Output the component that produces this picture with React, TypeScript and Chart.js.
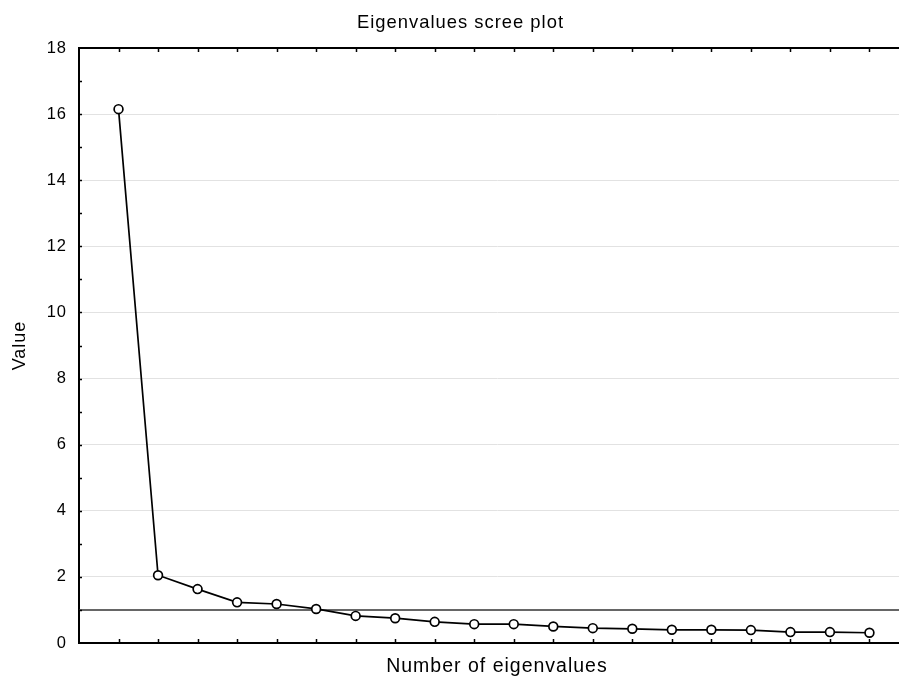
import React, { useEffect, useRef } from "react";
import { Chart, registerables } from "chart.js";

Chart.register(...registerables);

const components: number[] = [1, 2, 3, 4, 5, 6, 7, 8, 9, 10, 11, 12, 13, 14, 15, 16, 17, 18, 19, 20];
const eigenvalues: number[] = [16.15, 2.05, 1.63, 1.23, 1.18, 1.03, 0.82, 0.75, 0.64, 0.57, 0.57, 0.5, 0.45, 0.43, 0.4, 0.4, 0.39, 0.33, 0.33, 0.31];
const cutoff = 1;
const xMin = 0;
const xMax = 21.15;
const yMin = 0;
const yMax = 18;
const yStep = 2;

const titleText = "Eigenvalues scree plot";
const xTitle = "Number of eigenvalues";
const yTitle = "Value";

const FONT = "'Liberation Sans', Arial, sans-serif";

const framePlugin = {
  id: "frame",
  beforeLayout(chart: any) {
    chart.ctx.letterSpacing = "1px";
  },
  beforeDraw(chart: any) {
    chart.ctx.letterSpacing = "1px";
  },
  afterDraw(chart: any) {
    const { ctx, chartArea } = chart;
    const xs = chart.scales.x;
    const ys = chart.scales.y;
    ctx.save();
    ctx.strokeStyle = "#000";
    ctx.lineWidth = 2;
    ctx.beginPath();
    ctx.moveTo(chartArea.left - 1, chartArea.top);
    ctx.lineTo(chartArea.right, chartArea.top);
    ctx.stroke();
    ctx.lineWidth = 1.5;
    for (let i = Math.ceil(xMin) + 1; i <= Math.floor(xMax); i++) {
      const px = Math.round(xs.getPixelForValue(i)) + 0.5;
      ctx.beginPath();
      ctx.moveTo(px, chartArea.top);
      ctx.lineTo(px, chartArea.top + 4);
      ctx.moveTo(px, chartArea.bottom);
      ctx.lineTo(px, chartArea.bottom - 4);
      ctx.stroke();
    }
    for (let v = yMin + 1; v < yMax; v += 1) {
      const py = Math.round(ys.getPixelForValue(v)) + 0.5;
      ctx.beginPath();
      ctx.moveTo(chartArea.left, py);
      ctx.lineTo(chartArea.left + 3, py);
      ctx.stroke();
    }
    ctx.restore();
  },
};

export default function App() {
  const ref = useRef<HTMLCanvasElement | null>(null);

  useEffect(() => {
    if (!ref.current) return;
    Chart.defaults.font.family = FONT;
    Chart.defaults.color = "#000";
    const chart = new Chart(ref.current, {
      type: "line",
      data: {
        datasets: [
          {
            label: "cutoff",
            data: [
              { x: xMin, y: cutoff },
              { x: xMax, y: cutoff },
            ],
            borderColor: "#333",
            borderWidth: 1.6,
            pointRadius: 0,
            tension: 0,
            order: 2,
          },
          {
            label: "Eigenvalues",
            data: components.map((c, i) => ({ x: c, y: eigenvalues[i] })),
            borderColor: "#000",
            borderWidth: 1.7,
            pointRadius: 4.4,
            pointBorderWidth: 1.7,
            pointBorderColor: "#000",
            pointBackgroundColor: "#fff",
            tension: 0,
            order: 1,
          },
        ],
      },
      options: {
        animation: false,
        responsive: false,
        maintainAspectRatio: false,
        layout: { padding: 0 },
        plugins: {
          legend: { display: false },
          tooltip: { enabled: false },
          title: {
            display: true,
            text: titleText,
            color: "#000",
            font: { size: 18.4, weight: "normal", family: FONT, lineHeight: 1.2 },
            padding: { top: 12, bottom: 13.92 },
          },
        },
        scales: {
          x: {
            type: "linear",
            min: xMin,
            max: xMax,
            ticks: { display: false, stepSize: 1 },
            grid: { display: false, drawTicks: false },
            border: { display: true, color: "#000", width: 2 },
            title: {
              display: true,
              text: xTitle,
              color: "#000",
              font: { size: 19.5, family: FONT, lineHeight: 1.2 },
              padding: { top: 0, bottom: 1 },
            },
            afterFit(scale: any) {
              scale.height = 36;
            },
          },
          y: {
            type: "linear",
            min: yMin,
            max: yMax,
            ticks: {
              stepSize: yStep,
              color: "#000",
              padding: 12,
              font: { size: 16.5, family: FONT },
            },
            grid: {
              drawTicks: false,
              color: (ctx: any) =>
                ctx.tick && (ctx.tick.value === yMin || ctx.tick.value === yMax) ? "rgba(0,0,0,0)" : "#e2e2e2",
              lineWidth: 1,
            },
            border: { display: true, color: "#000", width: 2 },
            title: {
              display: true,
              text: yTitle,
              color: "#000",
              font: { size: 18, family: FONT, lineHeight: 1.2 },
              padding: { top: 9.2, bottom: 0 },
            },
            afterFit(scale: any) {
              scale.width = 79;
            },
          },
        },
      },
      plugins: [framePlugin],
    } as any);
    return () => chart.destroy();
  }, []);

  return (
    <div style={{ position: "absolute", left: 0, top: 0, width: 899, height: 679, overflow: "hidden", background: "#fff" }}>
      <canvas ref={ref} width={921} height={679} style={{ width: 921, height: 679, display: "block" }} />
    </div>
  );
}
